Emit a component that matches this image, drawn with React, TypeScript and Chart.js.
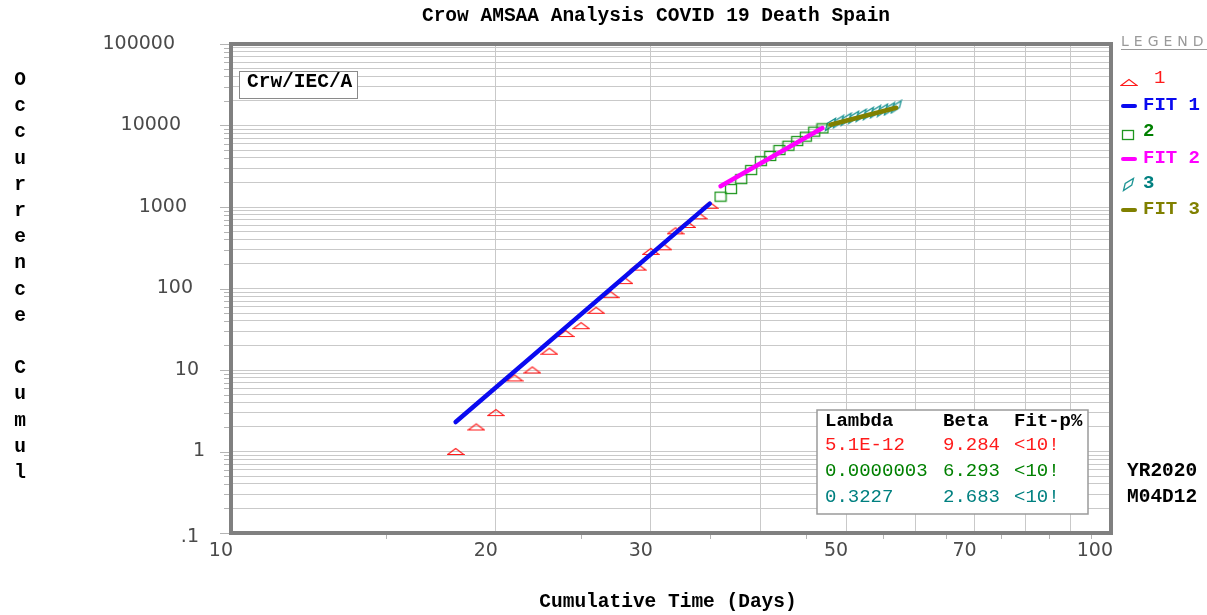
import React, { useEffect, useRef } from 'react';
import { Chart, registerables } from 'chart.js';

Chart.register(...registerables);

// ---------- data ----------
const CHART_TITLE = 'Crow AMSAA Analysis COVID 19 Death Spain';
const X_TITLE = 'Cumulative Time (Days)';
const Y_TITLE = 'Occurrence Cumul';

const days1 = [18, 19, 20, 21, 22, 23, 24, 25, 26, 27, 28, 29, 30, 31, 32, 33, 34, 35];
const deaths1 = [1, 2, 3, 8, 10, 17, 28, 35, 54, 84, 125, 183, 285, 325, 510, 610, 780, 1050];

const days2 = [36, 37, 38, 39, 40, 41, 42, 43, 44, 45, 46, 47];
const deaths2 = [1340, 1660, 2200, 2840, 3660, 4230, 5000, 5650, 6450, 7300, 8400, 9230];

const days3 = [48, 49, 50, 51, 52, 53, 54, 55, 56, 57];
const deaths3 = [10300, 11100, 11900, 12600, 13300, 14000, 14750, 15400, 16000, 16900];

const fit1Days = [18, 35];
const fit1Values = [2.3, 1100];
const fit2Days = [36, 47];
const fit2Values = [1800, 9300];
const fit3Days = [48, 57];
const fit3Values = [10200, 16500];

const xGridValues = [10, 20, 30, 40, 50, 60, 70, 80, 90, 100];
const xLabelValues = [10, 20, 30, 50, 70, 100];
const xLabelTexts = ['10', '20', '30', '50', '70', '100'];
const xMinorTicks = [15, 25, 35, 45, 55, 65, 75, 85, 95];

const yDecades = [0.1, 1, 10, 100, 1000, 10000];
const yMantissas = [1, 2, 3, 4, 5, 6, 7, 8, 9];
const yLabelValues = [0.1, 1, 10, 100, 1000, 10000, 100000];
const yLabelTexts = ['.1', '1', '10', '100', '1000', '10000', '100000'];

const statsHeader = ['Lambda', 'Beta', 'Fit-p%'];
const statsLambda = ['5.1E-12', '0.0000003', '0.3227'];
const statsBeta = ['9.284', '6.293', '2.683'];
const statsFit = ['<10!', '<10!', '<10!'];

const legendLabels = ['1', 'FIT 1', '2', 'FIT 2', '3', 'FIT 3'];

// ---------- styles ----------
const RED = '#ff1a1a';
const BLUE = '#0a0af0';
const GREEN = '#1e961e';
const GREEN_TEXT = '#008000';
const MAGENTA = '#ff00ff';
const TEAL = '#1f9595';
const TEAL_TEXT = '#008080';
const OLIVE = '#808000';
const MONO = "'Liberation Mono', 'Courier New', monospace";

function makeMarker(w: number, h: number, draw: (c: CanvasRenderingContext2D) => void) {
  const cv = document.createElement('canvas');
  cv.width = w;
  cv.height = h;
  const c = cv.getContext('2d')!;
  draw(c);
  return cv;
}

export default function App() {
  const ref = useRef<HTMLCanvasElement>(null);

  useEffect(() => {
    const canvas = ref.current!;

    const tri = makeMarker(18, 9, (c) => {
      c.strokeStyle = RED;
      c.lineWidth = 1.1;
      c.beginPath();
      c.moveTo(1, 7.5);
      c.lineTo(9, 1.5);
      c.lineTo(17, 7.5);
      c.closePath();
      c.stroke();
    });
    const sq = makeMarker(14, 12, (c) => {
      c.strokeStyle = GREEN;
      c.lineWidth = 1.3;
      c.strokeRect(1.5, 1.5, 11, 9);
    });
    const dia = makeMarker(13, 15, (c) => {
      c.strokeStyle = TEAL;
      c.lineWidth = 1.3;
      c.beginPath();
      c.moveTo(1.5, 13.5);
      c.lineTo(3.2, 6.5);
      c.lineTo(11.5, 1.5);
      c.lineTo(9.8, 8);
      c.closePath();
      c.stroke();
    });

    const yGridValues = yDecades.flatMap((d) => yMantissas.map((m) => +(d * m).toPrecision(3))).concat([100000]);

    const toPts = (xs: number[], ys: number[]) => xs.map((x, i) => ({ x, y: ys[i] }));

    const decor = {
      id: 'decor',
      afterDraw(chart: any) {
        const { ctx, chartArea: a, scales } = chart;
        const xs = scales.x;
        const ys = scales.y;
        ctx.save();

        // outside tick marks on left
        ctx.strokeStyle = '#b4b4b4';
        ctx.lineWidth = 1;
        yGridValues.forEach((v: number) => {
          const py = Math.round(ys.getPixelForValue(v)) + 0.5;
          const isDec = yLabelValues.includes(v);
          ctx.beginPath();
          ctx.moveTo(a.left - (isDec ? 11 : 7), py);
          ctx.lineTo(a.left, py);
          ctx.stroke();
        });
        // minor ticks at bottom
        xMinorTicks.forEach((v) => {
          const px = Math.round(xs.getPixelForValue(v)) + 0.5;
          ctx.beginPath();
          ctx.moveTo(px, a.bottom);
          ctx.lineTo(px, a.bottom + 6);
          ctx.stroke();
        });

        // plot frame
        ctx.strokeStyle = '#808080';
        ctx.lineWidth = 4;
        ctx.strokeRect(a.left, a.top, a.right - a.left, a.bottom - a.top);

        // y tick labels
        ctx.font = "19px 'DejaVu Sans', sans-serif";
        ctx.fillStyle = '#4a4a4a';
        ctx.textAlign = 'right';
        ctx.textBaseline = 'middle';
        const yRight = [199, 205, 199, 193, 187, 181, 175];
        yLabelValues.forEach((v, i) => {
          const py = ys.getPixelForValue(v) + (i === 0 ? 4 : 0);
          ctx.fillText(yLabelTexts[i], yRight[i], py);
        });
        // x tick labels
        xLabelValues.forEach((v, i) => {
          ctx.fillText(xLabelTexts[i], xs.getPixelForValue(v) + 2, a.bottom + 18);
        });

        // title
        ctx.fillStyle = '#000';
        ctx.font = `bold 19.5px ${MONO}`;
        ctx.textAlign = 'center';
        ctx.fillText(CHART_TITLE, 656, 16);
        ctx.fillText(X_TITLE, 668, 602);
        // y title, vertical letters
        Y_TITLE.split('').forEach((ch, i) => {
          ctx.fillText(ch, 20, 80 + i * 26.2);
        });

        // Crw/IEC/A box
        ctx.strokeStyle = '#8a8a8a';
        ctx.lineWidth = 1;
        ctx.fillStyle = '#fff';
        ctx.fillRect(239, 71, 118, 27);
        ctx.strokeRect(239.5, 71.5, 118, 27);
        ctx.fillStyle = '#000';
        ctx.textAlign = 'left';
        ctx.fillText('Crw/IEC/A', 247, 82);

        // YR / date
        ctx.fillText('YR2020', 1127, 471);
        ctx.fillText('M04D12', 1127, 497);

        // stats box
        ctx.fillStyle = '#fff';
        ctx.fillRect(817, 410, 271, 104);
        ctx.strokeStyle = '#9a9a9a';
        ctx.lineWidth = 1.5;
        ctx.strokeRect(817, 410, 271, 104);
        ctx.fillStyle = '#000';
        ctx.font = `bold 19px ${MONO}`;
        ctx.fillText(statsHeader[0], 825, 421);
        ctx.fillText(statsHeader[1], 943, 421);
        ctx.fillText(statsHeader[2], 1014, 421);
        ctx.font = `19px ${MONO}`;
        const rowColors = [RED, GREEN_TEXT, TEAL_TEXT];
        statsLambda.forEach((s, i) => {
          const yy = 445 + i * 26;
          ctx.fillStyle = rowColors[i];
          ctx.fillText(s, 825, yy);
          ctx.fillText(statsBeta[i], 943, yy);
          ctx.fillText(statsFit[i], 1014, yy);
        });

        // legend heading
        ctx.fillStyle = '#9a9a9a';
        ctx.font = "14px 'DejaVu Sans', sans-serif";
        (ctx as any).letterSpacing = '5px';
        ctx.fillText('LEGEND', 1121, 42);
        (ctx as any).letterSpacing = '0px';
        ctx.strokeStyle = '#9a9a9a';
        ctx.lineWidth = 1;
        ctx.beginPath();
        ctx.moveTo(1121, 49.5);
        ctx.lineTo(1207, 49.5);
        ctx.stroke();

        const legendColors = [RED, BLUE, GREEN_TEXT, MAGENTA, TEAL_TEXT, OLIVE];
        const legendLineColors = [BLUE, MAGENTA, OLIVE];
        const rowsY = [78, 105, 131, 158, 183, 209];
        // markers
        ctx.drawImage(tri, 1120, 78);
        ctx.drawImage(sq, 1121, 129);
        ctx.drawImage(dia, 1122, 177);
        [1, 3, 5].forEach((r, k) => {
          ctx.strokeStyle = legendLineColors[k];
          ctx.lineWidth = 4;
          ctx.lineCap = 'round';
          ctx.beginPath();
          ctx.moveTo(1123, rowsY[r] + 1);
          ctx.lineTo(1135, rowsY[r] + 1);
          ctx.stroke();
        });
        legendLabels.forEach((t, i) => {
          ctx.fillStyle = legendColors[i];
          ctx.font = i === 0 ? `19px ${MONO}` : `bold 19px ${MONO}`;
          ctx.fillText(t, i === 0 ? 1154 : 1143, rowsY[i]);
        });

        ctx.restore();
      },
    };

    const chart = new Chart(canvas, {
      type: 'scatter',
      data: {
        datasets: [
          { label: 'FIT 1', data: toPts(fit1Days, fit1Values), showLine: true, borderColor: BLUE, borderWidth: 4.5, pointRadius: 0, borderCapStyle: 'round', order: 0 },
          { label: 'FIT 2', data: toPts(fit2Days, fit2Values), showLine: true, borderColor: MAGENTA, borderWidth: 4.5, pointRadius: 0, borderCapStyle: 'round', order: 0 },
          { label: 'FIT 3', data: toPts(fit3Days, fit3Values), showLine: true, borderColor: OLIVE, borderWidth: 4.5, pointRadius: 0, borderCapStyle: 'round', order: 0 },
          { label: '1', data: toPts(days1, deaths1), showLine: false, pointStyle: tri as any, pointRadius: 8, order: 1 },
          { label: '2', data: toPts(days2, deaths2), showLine: false, pointStyle: sq as any, pointRadius: 6, order: 1 },
          { label: '3', data: toPts(days3, deaths3), showLine: false, pointStyle: dia as any, pointRadius: 6, order: 1 },
        ] as any,
      },
      options: {
        responsive: false,
        animation: false,
        devicePixelRatio: 1,
        layout: { padding: { left: 231, right: 96, top: 44, bottom: 82 } },
        plugins: { legend: { display: false }, title: { display: false }, tooltip: { enabled: false } },
        events: [],
        scales: {
          x: {
            type: 'logarithmic',
            min: 10,
            max: 100,
            afterBuildTicks: (s: any) => {
              s.ticks = xGridValues.map((v) => ({ value: v }));
            },
            ticks: { display: false },
            grid: { color: '#c9c9c9', lineWidth: 1, drawTicks: false },
            border: { display: false },
          },
          y: {
            type: 'logarithmic',
            min: 0.1,
            max: 100000,
            afterBuildTicks: (s: any) => {
              s.ticks = yGridValues.map((v: number) => ({ value: v }));
            },
            ticks: { display: false },
            grid: { color: '#c9c9c9', lineWidth: 1, drawTicks: false },
            border: { display: false },
          },
        },
      } as any,
      plugins: [decor],
    });

    return () => chart.destroy();
  }, []);

  return (
    <div style={{ position: 'fixed', left: 0, top: 0, width: 1207, height: 615, background: '#fff' }}>
      <canvas ref={ref} width={1207} height={615} style={{ display: 'block', width: 1207, height: 615 }} />
    </div>
  );
}
